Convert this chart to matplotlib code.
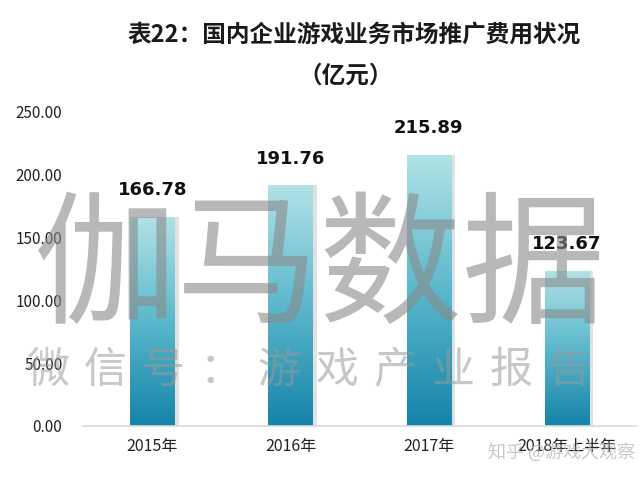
import numpy as np
import matplotlib
matplotlib.use("Agg")
import matplotlib.pyplot as plt
from matplotlib.colors import LinearSegmentedColormap
from matplotlib.patches import Rectangle

plt.rcParams['font.family'] = ['Noto Sans CJK SC', 'DejaVu Sans']

# data
years = ['2015年', '2016年', '2017年', '2018年上半年']
costs = [166.78, 191.76, 215.89, 123.67]
yticks = [0, 50, 100, 150, 200, 250]

title = '表22：国内企业游戏业务市场推广费用状况'
subtitle = '（亿元）'
mark_big = '伽马数据'
mark_small = '微信号：游戏产业报告'
mark_zhihu = '知乎 @游戏大观察'

fig = plt.figure(figsize=(6.4, 4.8), dpi=100)
ax = fig.add_axes([0.13, 0.1125, 0.864, 0.6542])

cmap = LinearSegmentedColormap.from_list('bar', ['#1583a9', '#5bb8cc', '#b2e2e6'])
grad = np.linspace(0, 1, 256).reshape(-1, 1)
x = np.arange(len(years))
w = 0.32

for i, v in enumerate(costs):
    # faint shadow on the right
    sh = Rectangle((x[i] - w / 2 + 0.03, 0), w, v, facecolor='#7f8c90', alpha=0.25,
                   edgecolor='none', zorder=1)
    ax.add_patch(sh)
    rect = Rectangle((x[i] - w / 2, 0), w, v, facecolor='none', edgecolor='none', zorder=2)
    ax.add_patch(rect)
    im = ax.imshow(grad, cmap=cmap, origin='lower', aspect='auto',
                   extent=(x[i] - w / 2, x[i] + w / 2, 0, v), zorder=2)
    im.set_clip_path(rect)
    ax.text(x[i], v + 14, f'{v:.2f}', ha='center', va='bottom', fontsize=13,
            fontweight='bold', color='#111111', family=['DejaVu Sans'], zorder=5)

ax.set_xlim(-0.5, len(years) - 0.5)
ax.set_ylim(0, 250)
ax.set_yticks(yticks)
ax.set_yticklabels([f'{t:.2f}' for t in yticks], fontsize=11, color='#222222')
ax.set_xticks(x)
ax.set_xticklabels(years, fontsize=11.5, color='#222222')
ax.tick_params(length=0)
ax.tick_params(axis='y', pad=15)
ax.tick_params(axis='x', pad=9)
for s in ['top', 'right', 'left']:
    ax.spines[s].set_visible(False)
ax.spines['bottom'].set_color('#d9d9d9')
ax.spines['bottom'].set_linewidth(1.2)

fig.text(0.553, 0.927, title, ha='center', va='center', fontsize=17, fontweight='bold',
         color='#1a1a1a')
fig.text(0.54, 0.843, subtitle, ha='center', va='center', fontsize=17, fontweight='bold',
         color='#1a1a1a')

# watermarks
fig.text(0.50, 0.435, mark_big, ha='center', va='center', fontsize=103,
         color='#8a8a8a', alpha=0.6, zorder=10)
for k, ch in enumerate(mark_small):
    fig.text(0.074 + k * 0.0905, 0.228, ch, ha='center', va='center', fontsize=31,
             color='#9a9a9a', alpha=0.55, zorder=10)
fig.text(0.877, 0.058, mark_zhihu, ha='center', va='center', fontsize=13,
         color='#bbbbbb', alpha=0.8, zorder=10)

fig.savefig('out.png', dpi=100)
